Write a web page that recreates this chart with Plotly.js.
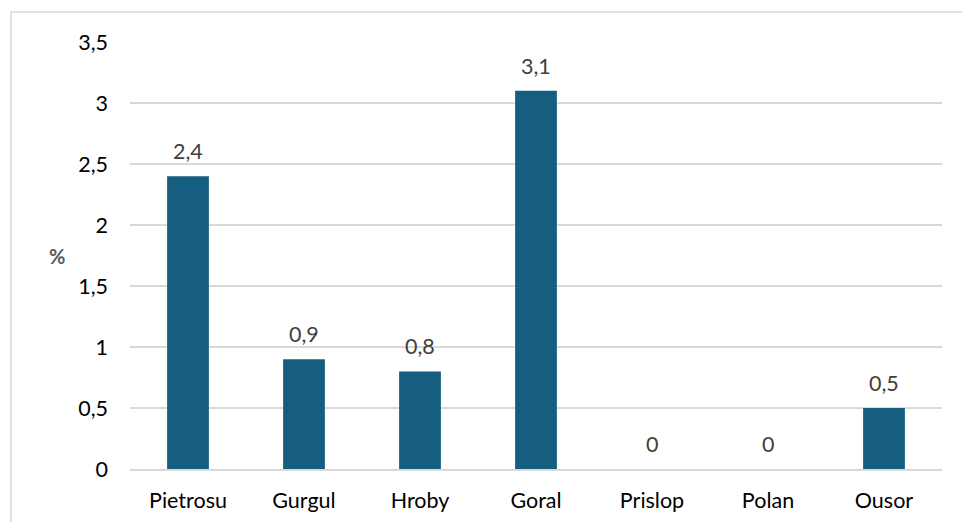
<!DOCTYPE html>
<html>
<head>
<meta charset="utf-8">
<script src="https://cdn.plot.ly/plotly-3.0.1.min.js"></script>
<style>
  html, body { margin: 0; padding: 0; background: #fff; }
  #chart { width: 962px; height: 522px; }
</style>
</head>
<body>
<div id="chart"></div>
<script>
// Share of plots per site (%)
const sites = ['Pietrosu', 'Gurgul', 'Hroby', 'Goral', 'Prislop', 'Polan', 'Ousor'];
const percent = [2.4, 0.9, 0.8, 3.1, 0, 0, 0.5];
const yTicks = [0, 0.5, 1, 1.5, 2, 2.5, 3, 3.5];

const barColor = '#165e80';
const fontFamily = 'Lato, "Open Sans", sans-serif';
const fontSize = 21.5;

// value labels above each bar, placed from the same values
const valueLabels = sites.map((s, i) => ({
  x: s, y: percent[i], xref: 'x', yref: 'y',
  text: String(percent[i]).replace('.', ','),
  showarrow: false, yanchor: 'bottom', yshift: 10,
  font: { family: fontFamily, size: fontSize, color: '#404040' }
}));

const trace = {
  type: 'bar',
  x: sites,
  y: percent,
  marker: { color: barColor },
  hoverinfo: 'x+y'
};

const layout = {
  width: 962, height: 522,
  margin: { l: 130, r: 20, t: 42, b: 53 },
  paper_bgcolor: '#fff', plot_bgcolor: '#fff',
  separators: ', ',
  bargap: 0.64,
  showlegend: false,
  font: { family: fontFamily, size: fontSize, color: '#000' },
  xaxis: {
    type: 'category',
    showgrid: false, zeroline: false,
    showline: true, linecolor: '#d9d9d9', linewidth: 2,
    ticks: '', ticklabelstandoff: 11,
    tickfont: { family: fontFamily, size: fontSize, color: '#000' }
  },
  yaxis: {
    range: [0, 3.5],
    tickvals: yTicks,
    ticktext: yTicks.map(v => String(v).replace('.', ',')),
    showgrid: true, gridcolor: '#d9d9d9', gridwidth: 2,
    zeroline: false, showline: false,
    ticks: '', ticklabelstandoff: 21,
    tickfont: { family: fontFamily, size: fontSize, color: '#000' }
  },
  annotations: valueLabels.concat([{
    text: '<b>%</b>', xref: 'paper', yref: 'paper',
    x: -73 / 812, y: (469 - 256) / 427,
    showarrow: false, xanchor: 'center', yanchor: 'middle',
    font: { family: fontFamily, size: 20, color: '#595959', weight: 'bold' }
  }]),
  shapes: [{
    type: 'rect', xref: 'paper', yref: 'paper', layer: 'below',
    x0: -119 / 812, x1: 1.2, y0: -0.3, y1: (469 - 12) / 427,
    line: { color: '#d9d9d9', width: 1.5 }, fillcolor: 'rgba(0,0,0,0)'
  }]
};

Plotly.newPlot('chart', [trace], layout, { displayModeBar: false, staticPlot: true });
</script>
</body>
</html>
